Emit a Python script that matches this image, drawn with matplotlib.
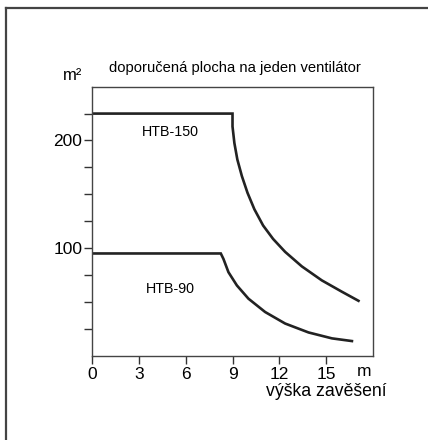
import matplotlib
matplotlib.use("Agg")
from matplotlib import pyplot as plt
from matplotlib.lines import Line2D

plt.rcParams['font.family'] = ['Liberation Sans', 'DejaVu Sans']

# HTB-150 curve (height in m, area in m2)
htb150_x = [0, 9.0, 9.0, 9.12, 9.31, 9.60, 9.96, 10.40, 10.96, 11.60, 12.37, 13.44, 14.72, 16.0, 17.07]
htb150_y = [225, 225, 213, 197.6, 182.3, 166.9, 151.4, 136.1, 121.0, 108.5, 96.5, 83.0, 70.0, 59.5, 51.0]

# HTB-90 curve
htb90_x = [0, 8.25, 8.42, 8.74, 9.28, 10.02, 11.09, 12.37, 13.87, 15.37, 16.65]
htb90_y = [95, 95, 89.9, 77.6, 65.3, 53.0, 40.6, 29.9, 21.6, 16.1, 13.6]

x_ticks = [0, 3, 6, 9, 12, 15]
y_major = [100, 200]
y_minor = [25, 50, 75, 125, 150, 175, 225]

fig = plt.figure(figsize=(4.28, 4.40), dpi=100)
ax = fig.add_axes([0.215, 0.1916, 0.6565, 0.6114])

ax.plot(htb150_x, htb150_y, color='#222222', lw=1.9, solid_joinstyle='miter')
ax.plot(htb90_x, htb90_y, color='#222222', lw=1.9, solid_joinstyle='miter')

ax.set_xlim(0, 18)
ax.set_ylim(0, 250)
ax.set_xticks(x_ticks)
ax.set_yticks(y_major)
ax.set_yticks(y_minor, minor=True)
ax.tick_params(axis='both', which='both', direction='out', length=6, width=1,
               color='#333333', labelsize=12.5)
ax.tick_params(axis='x', pad=2)
ax.tick_params(axis='y', pad=1)
for s in ax.spines.values():
    s.set_color('#444444')
    s.set_linewidth(1)

ax.text(5.0, 208, 'HTB-150', fontsize=10.3, ha='center', va='center')
ax.text(5.0, 62, 'HTB-90', fontsize=10.3, ha='center', va='center')

fig.text(235 / 428, 1 - 68 / 440, 'doporučená plocha na jeden ventilátor',
         fontsize=10.6, ha='center', va='center')
fig.text(73 / 428, 1 - 75 / 440, 'm²', fontsize=12, ha='center', va='center')
fig.text(364 / 428, 1 - 371 / 440, 'm', fontsize=12.5, ha='center', va='center')
fig.text(326 / 428, 1 - 391 / 440, 'výška zavěšení', fontsize=12.7, ha='center', va='center')

# outer frame (top and left edges only)
fig.add_artist(Line2D([6 / 428, 1.0], [1 - 8 / 440, 1 - 8 / 440],
                      transform=fig.transFigure, color='#444444', lw=1.6))
fig.add_artist(Line2D([6 / 428, 6 / 428], [0.0, 1 - 8 / 440],
                      transform=fig.transFigure, color='#444444', lw=1.6))

plt.savefig('out.png', dpi=100)
